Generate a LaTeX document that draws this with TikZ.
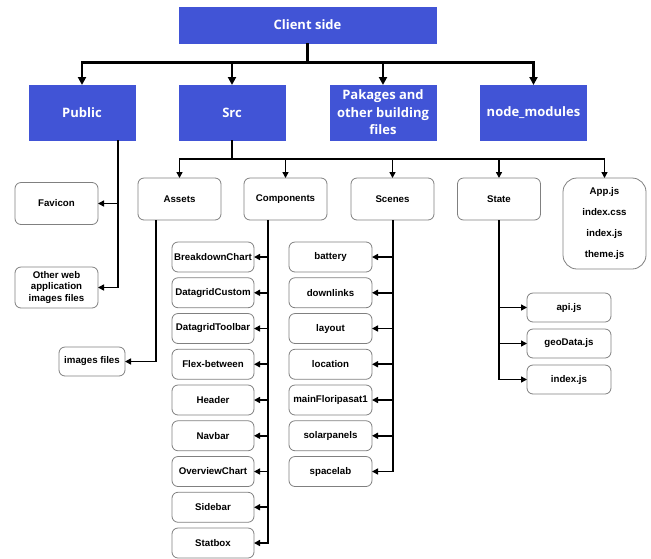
\documentclass[tikz,border=0pt]{standalone}
\usepackage{fontspec}
\setmainfont{Liberation Sans}
\newfontfamily\headfont{Open Sans}
\usetikzlibrary{arrows.meta, positioning}
\definecolor{headblue}{RGB}{65,84,214}
\definecolor{boxgray}{RGB}{128,128,128}
\tikzset{
  head/.style={rectangle, fill=headblue, draw=headblue, text=white, align=center,
    font=\headfont\bfseries\fontsize{13}{17.5}\selectfont,
    minimum width=106pt, minimum height=55pt, inner sep=2pt, outer sep=0pt},
  folder/.style={draw=boxgray, rectangle, rounded corners=6pt, line width=0.8pt, align=center,
    font=\bfseries\fontsize{9.7}{11.6}\selectfont,
    minimum width=83pt, minimum height=42pt, inner sep=1pt, outer sep=0pt},
  leaf/.style={folder, minimum width=82pt, minimum height=30pt},
  bigflow/.style={-{Triangle[length=8pt, width=8pt]}, line width=2.4pt},
  flow/.style={-{Triangle[length=6pt, width=6pt]}, line width=1.6pt},
}

\begin{document}
\begin{tikzpicture}[x=1pt, y=-1pt]
  \fill[white] (0,0) rectangle (651,558);
  \useasboundingbox (0,0) rectangle (651,558);

  % top level
  \node[head, minimum width=257pt, minimum height=36pt] (client) at (307.5,25) {Client side};
  \node[head] (public) at (82,112.5) {Public};
  \node[head] (src) at (232,112.5) {Src};
  \node[head] (pakages) at (383,112.5) {Pakages and\\other building\\files};
  \node[head] (nodemod) at (533.5,112.5) {node\_modules};

  \coordinate (split) at (307.5,62.5);
  \draw[bigflow] (client) -- (split) -| (public);
  \draw[bigflow] (split) -| (src);
  \draw[bigflow] (split) -| (pakages);
  \draw[bigflow] (split) -| (nodemod);

  % public folder
  \node[folder] (favicon) at (56.5,203.5) {Favicon};
  \node[folder, minimum height=41pt] (otherimg) at (56.5,287.5) {Other web\\application\\images files};
  \coordinate (pubdrop) at (118,140);
  \draw[flow] (pubdrop) |- (favicon);
  \draw[flow] (pubdrop) |- (otherimg);

  % src folders
  \node[folder] (assets) at (179.5,199) {Assets};
  \node[folder] (comp) at (285.5,199) {Components};
  \node[folder] (scenes) at (392.5,199) {Scenes};
  \node[folder] (state) at (499,199) {State};
  \node[folder, minimum height=91pt, rounded corners=14pt, font=\bfseries\fontsize{9.7}{21.3}\selectfont]
    (appjs) at (604.5,223.5) {App.js\\index.css\\index.js\\theme.js};

  \coordinate (srcbus) at (232,159);
  \draw[flow] (src) -- (srcbus) -| (assets);
  \draw[flow] (srcbus) -| (comp);
  \draw[flow] (srcbus) -| (scenes);
  \draw[flow] (srcbus) -| (state);
  \draw[flow] (srcbus) -| (appjs);

  % assets
  \node[leaf, minimum width=66pt, minimum height=29pt] (imgfiles) at (92,361.5) {images files};
  \coordinate (assetbus) at (156,220);
  \draw[flow] (assetbus) |- (imgfiles);

  % components
  \node[leaf] (bdchart) at (213,257) {BreakdownChart};
  \node[leaf, below=5.75pt of bdchart] (dgcustom) {DatagridCustom};
  \node[leaf, below=5.75pt of dgcustom] (dgtoolbar) {DatagridToolbar};
  \node[leaf, below=5.75pt of dgtoolbar] (flexbtw) {Flex-between};
  \node[leaf, below=5.75pt of flexbtw] (header) {Header};
  \node[leaf, below=5.75pt of header] (navbar) {Navbar};
  \node[leaf, below=5.75pt of navbar] (overview) {OverviewChart};
  \node[leaf, below=5.75pt of overview] (sidebar) {Sidebar};
  \node[leaf, below=5.75pt of sidebar] (statbox) {Statbox};
  \coordinate (compbus) at (268,220);
  \draw[flow] (compbus) |- (bdchart);
  \draw[flow] (compbus) |- (dgcustom);
  \draw[flow] (compbus) |- (dgtoolbar);
  \draw[flow] (compbus) |- (flexbtw);
  \draw[flow] (compbus) |- (header);
  \draw[flow] (compbus) |- (navbar);
  \draw[flow] (compbus) |- (overview);
  \draw[flow] (compbus) |- (sidebar);
  \draw[flow] (compbus) |- (statbox);

  % scenes
  \node[leaf, minimum width=83pt] (battery) at (330.5,257) {battery};
  \node[leaf, minimum width=83pt, below=5.75pt of battery] (downlinks) {downlinks};
  \node[leaf, minimum width=83pt, below=5.75pt of downlinks] (layout) {layout};
  \node[leaf, minimum width=83pt, below=5.75pt of layout] (location) {location};
  \node[leaf, minimum width=83pt, below=5.75pt of location] (mainfp) {mainFloripasat1};
  \node[leaf, minimum width=83pt, below=5.75pt of mainfp] (solar) {solarpanels};
  \node[leaf, minimum width=83pt, below=5.75pt of solar] (spacelab) {spacelab};
  \coordinate (scenebus) at (393,220);
  \draw[flow] (scenebus) |- (battery);
  \draw[flow] (scenebus) |- (downlinks);
  \draw[flow] (scenebus) |- (layout);
  \draw[flow] (scenebus) |- (location);
  \draw[flow] (scenebus) |- (mainfp);
  \draw[flow] (scenebus) |- (solar);
  \draw[flow] (scenebus) |- (spacelab);

  % state
  \node[leaf, minimum width=84pt, minimum height=29pt] (api) at (569,307.5) {api.js};
  \node[leaf, minimum width=84pt, minimum height=29pt, below=7pt of api] (geodata) {geoData.js};
  \node[leaf, minimum width=84pt, minimum height=29pt, below=7pt of geodata] (stateidx) {index.js};
  \coordinate (statebus) at (499,220);
  \draw[flow] (statebus) |- (api);
  \draw[flow] (statebus) |- (geodata);
  \draw[flow] (statebus) |- (stateidx);
\end{tikzpicture}
\end{document}
